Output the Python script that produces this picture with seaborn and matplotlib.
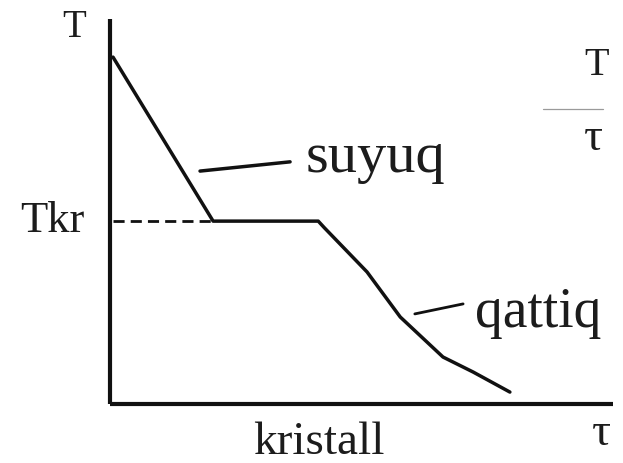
import matplotlib
matplotlib.use("Agg")
import matplotlib.pyplot as plt
import seaborn as sns
import pandas as pd

# Cooling curve of a pure metal: time (tau) vs temperature (T)
tau = [0.6, 20.5, 41.4, 42.6, 51.1, 57.7, 66.2, 72.2, 79.5]
temp = [90.1, 47.5, 47.5, 45.8, 34.3, 22.6, 12.2, 8.3, 3.1]

# Crystallisation temperature level (dashed guide)
t_kr = 47.5
dash_tau = [0.6, 20.5]

# Leader lines for the phase labels
suyuq_leader_tau = [17.9, 35.8]
suyuq_leader_T = [60.5, 62.9]
qattiq_leader_tau = [60.6, 70.2]
qattiq_leader_T = [23.4, 26.0]

sns.set_style("white")
plt.rcParams["font.family"] = ["Liberation Serif", "DejaVu Serif"]

W, H = 623, 464
fig = plt.figure(figsize=(W / 100, H / 100), dpi=100)
ax = fig.add_axes([110 / W, (H - 405) / H, 503 / W, 385 / H])
ax.set_xlim(0, 100)
ax.set_ylim(0, 100)
ax.set_xticks([])
ax.set_yticks([])
for side in ("top", "right"):
    ax.spines[side].set_visible(False)
for side in ("left", "bottom"):
    ax.spines[side].set_linewidth(3.0)
    ax.spines[side].set_color("#111111")
    ax.spines[side].set_capstyle("butt")

df = pd.DataFrame({"tau": tau, "T": temp})
sns.lineplot(data=df, x="tau", y="T", ax=ax, color="#111111", linewidth=2.5,
             sort=False, estimator=None)

sns.lineplot(x=dash_tau, y=[t_kr, t_kr], ax=ax, color="#111111", linewidth=2.0,
             linestyle=(0, (4, 2.2)))
sns.lineplot(x=suyuq_leader_tau, y=suyuq_leader_T, ax=ax, color="#111111",
             linewidth=2.5, sort=False, estimator=None)
sns.lineplot(x=qattiq_leader_tau, y=qattiq_leader_T, ax=ax, color="#111111",
             linewidth=2.0, sort=False, estimator=None)

txt = "#1c1c1c"


def label(x, y, s, size, ha="left"):
    ax.text(x, y, s, fontsize=size, ha=ha, va="baseline", color=txt)


label(-7.2, 95.6, "T", 28, ha="center")
label(-17.9, 45.0, "Tkr", 32)
label(38.8, 60.5, "suyuq", 42)
label(72.6, 20.3, "qattiq", 40)
label(28.4, -12.8, "kristall", 34)
label(97.6, -10.4, "τ", 34, ha="center")

# Axis legend in the upper right: T over tau
label(96.8, 85.7, "T", 29, ha="center")
ax.plot([86.1, 98.0], [76.6, 76.6], color="#9a9a9a", linewidth=0.9, clip_on=False)
label(96.2, 66.2, "τ", 34, ha="center")

fig.savefig("out.png", dpi=100, facecolor="white")
